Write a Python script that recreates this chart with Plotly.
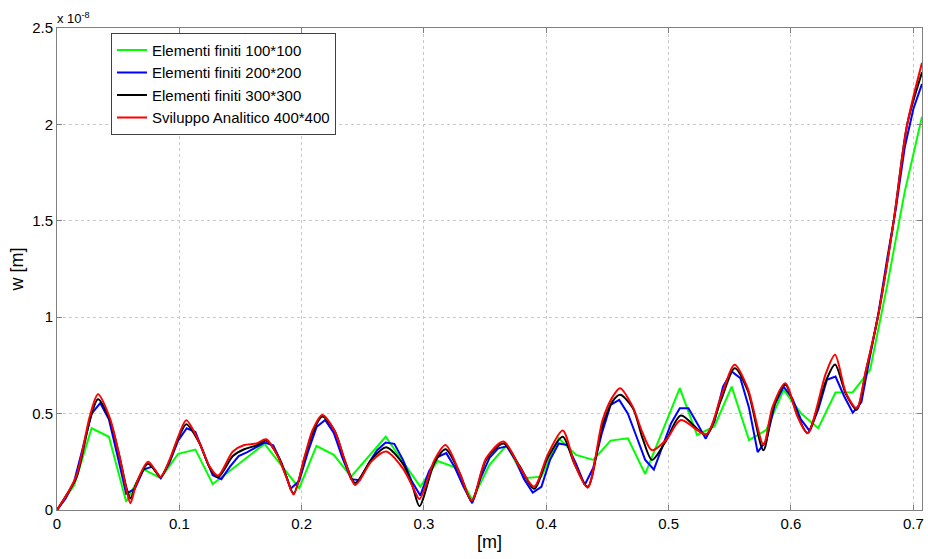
import numpy as np
import plotly.graph_objects as go

# Values in units of 1e-8 m
X_MAX = 0.70711

green_y = [0, 0.13, 0.424, 0.38, 0.043, 0.211, 0.165, 0.291, 0.313, 0.135,
           0.204, 0.274, 0.343, 0.228, 0.113, 0.332, 0.286, 0.173, 0.277, 0.38,
           0.25, 0.121, 0.254, 0.222, 0.052, 0.234, 0.337, 0.165, 0.173, 0.372,
           0.286, 0.26, 0.36, 0.372, 0.187, 0.41, 0.632, 0.389, 0.433, 0.64,
           0.363, 0.415, 0.623, 0.502, 0.424, 0.609, 0.611, 0.727, 1.17, 1.65,
           2.04]

blue_y = [0, 0.06, 0.15, 0.32, 0.50, 0.555, 0.47, 0.28, 0.085, 0.11,
          0.21, 0.225, 0.165, 0.245, 0.36, 0.424, 0.405, 0.29, 0.18, 0.16,
          0.225, 0.28, 0.30, 0.325, 0.35, 0.335, 0.24, 0.11, 0.15, 0.30,
          0.43, 0.467, 0.40, 0.27, 0.16, 0.155, 0.24, 0.31, 0.35, 0.343,
          0.26, 0.15, 0.075, 0.20, 0.275, 0.295, 0.22, 0.12, 0.035, 0.17,
          0.27, 0.32, 0.33, 0.26, 0.16, 0.09, 0.12, 0.26, 0.345, 0.337,
          0.24, 0.13, 0.22, 0.40, 0.545, 0.571, 0.50, 0.38, 0.26, 0.21,
          0.33, 0.45, 0.528, 0.528, 0.45, 0.37, 0.46, 0.64, 0.718, 0.684,
          0.53, 0.30, 0.36, 0.55, 0.64, 0.58, 0.47, 0.41, 0.52, 0.675,
          0.692, 0.59, 0.505, 0.56, 0.80, 1.03, 1.31, 1.57, 1.88, 2.08,
          2.21]

fine_x = [0.000, 0.008, 0.016, 0.027, 0.0335, 0.043, 0.051, 0.057, 0.060, 0.065,
          0.0744, 0.080, 0.0847, 0.092, 0.0997, 0.1057, 0.1166, 0.1248, 0.1316, 0.1438,
          0.153, 0.163, 0.171, 0.1806, 0.1874, 0.1934, 0.2024, 0.209, 0.2168, 0.227,
          0.2351, 0.2438, 0.2569, 0.269, 0.2827, 0.2908, 0.2963, 0.3086, 0.3176, 0.3293,
          0.339, 0.3508, 0.365, 0.378, 0.390, 0.4011, 0.4134, 0.423, 0.4338, 0.446,
          0.4543, 0.4603, 0.4706, 0.4788, 0.4864, 0.4979, 0.510, 0.5306, 0.5428, 0.554,
          0.5646, 0.5775, 0.585, 0.5953, 0.6054, 0.6136, 0.6286, 0.636, 0.645, 0.6537,
          0.6613, 0.671, 0.684, 0.695, 0.70711]

black_y = [0.00, 0.08, 0.17, 0.47, 0.575, 0.47, 0.28, 0.11, 0.06, 0.14,
           0.24, 0.205, 0.17, 0.255, 0.38, 0.445, 0.345, 0.22, 0.17, 0.28,
           0.315, 0.335, 0.36, 0.28, 0.175, 0.085, 0.27, 0.40, 0.485, 0.41,
           0.26, 0.14, 0.26, 0.325, 0.24, 0.12, 0.02, 0.245, 0.315, 0.19,
           0.045, 0.26, 0.345, 0.23, 0.11, 0.27, 0.38, 0.24, 0.12, 0.44,
           0.565, 0.598, 0.53, 0.37, 0.26, 0.36, 0.49, 0.39, 0.57, 0.735,
           0.62, 0.31, 0.52, 0.65, 0.49, 0.40, 0.67, 0.755, 0.60, 0.52,
           0.72, 1.0, 1.5, 2.0, 2.27]

red_y = [0.00, 0.08, 0.18, 0.49, 0.60, 0.48, 0.28, 0.10, 0.035, 0.14,
         0.25, 0.21, 0.17, 0.26, 0.39, 0.465, 0.346, 0.225, 0.178, 0.303,
         0.337, 0.345, 0.367, 0.277, 0.173, 0.081, 0.277, 0.415, 0.493, 0.41,
         0.26, 0.13, 0.251, 0.303, 0.216, 0.121, 0.057, 0.26, 0.337, 0.19,
         0.048, 0.268, 0.355, 0.225, 0.121, 0.286, 0.412, 0.242, 0.116, 0.467,
         0.588, 0.632, 0.536, 0.398, 0.31, 0.363, 0.467, 0.393, 0.588, 0.753,
         0.632, 0.34, 0.536, 0.658, 0.484, 0.398, 0.71, 0.805, 0.606, 0.528,
         0.727, 1.0, 1.5, 2.0, 2.32]

names = ["Elementi finiti 100*100", "Elementi finiti 200*200",
         "Elementi finiti 300*300", "Sviluppo Analitico 400*400"]

green_x = np.linspace(0, X_MAX, len(green_y))
blue_x = np.linspace(0, X_MAX, len(blue_y))

fig = go.Figure()
fig.add_trace(go.Scatter(x=green_x, y=green_y, mode="lines", name=names[0],
                         line=dict(color="#00ff00", width=2)))
fig.add_trace(go.Scatter(x=blue_x, y=blue_y, mode="lines", name=names[1],
                         line=dict(color="#0000ff", width=2)))
fig.add_trace(go.Scatter(x=fine_x, y=black_y, mode="lines", name=names[2],
                         line=dict(color="#000000", width=2, shape="spline", smoothing=0.8)))
fig.add_trace(go.Scatter(x=fine_x, y=red_y, mode="lines", name=names[3],
                         line=dict(color="#ff0000", width=2, shape="spline", smoothing=0.8)))

FONT = "Liberation Sans, Arial"
axis_common = dict(
    showline=True, linecolor="#808080", linewidth=1, mirror="ticks",
    ticks="inside", ticklen=5, tickcolor="#808080",
    showgrid=True, gridcolor="#c8c8c8", griddash="dot", gridwidth=1,
    zeroline=False, tickfont=dict(family=FONT, size=15, color="#000000"),
)

fig.update_layout(
    width=928, height=559,
    margin=dict(l=57, r=6, t=28, b=49, autoexpand=False),
    paper_bgcolor="white", plot_bgcolor="white",
    font=dict(family=FONT, color="#000000"),
    xaxis=dict(range=[0, X_MAX], tickvals=[0, 0.1, 0.2, 0.3, 0.4, 0.5, 0.6, 0.7],
               ticktext=["0", "0.1", "0.2", "0.3", "0.4", "0.5", "0.6", "0.7"],
               title=dict(text="[m]", font=dict(size=18), standoff=4), **axis_common),
    yaxis=dict(range=[0, 2.5], tickvals=[0, 0.5, 1, 1.5, 2, 2.5],
               ticktext=["0", "0.5", "1", "1.5", "2", "2.5"],
               title=dict(text="w [m]", font=dict(size=18), standoff=3), **axis_common),
    legend=dict(x=0.0624, y=0.99, xanchor="left", yanchor="top",
                bgcolor="white", bordercolor="#404040", borderwidth=1,
                font=dict(family=FONT, size=15, color="#000000"),
                tracegroupgap=0),
    showlegend=True,
)

fig.add_annotation(xref="paper", yref="paper", x=0, y=1, xanchor="left", yanchor="bottom",
                   text="x 10<sup>-8</sup>", showarrow=False,
                   font=dict(family=FONT, size=13, color="#000000"),
                   xshift=-2, yshift=0)

fig.write_html("out.html", config={"displayModeBar": False},
               post_script="document.body.style.margin='0';document.body.style.overflow='hidden';")
